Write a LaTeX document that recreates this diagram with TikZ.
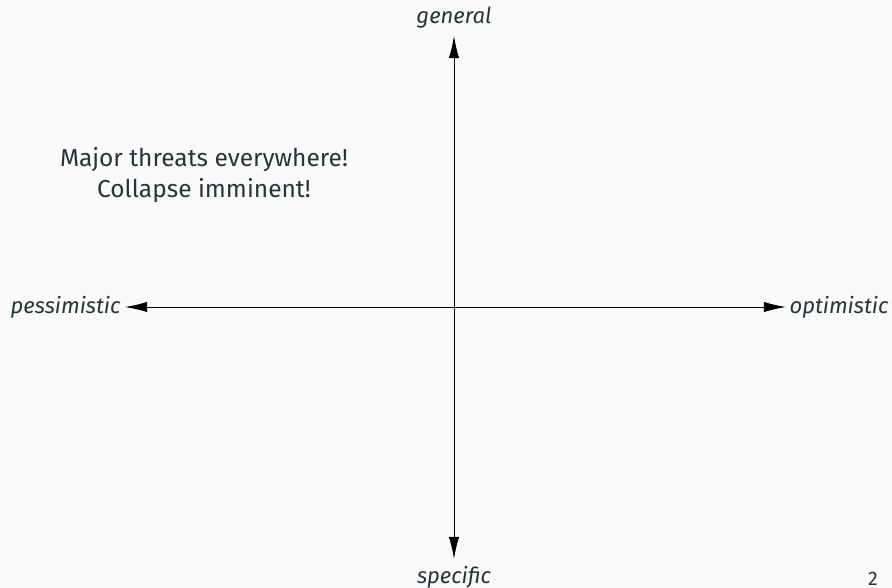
\documentclass[tikz,border=0pt]{standalone}
\usepackage{fontspec}
\setmainfont{Fira Sans}
\usetikzlibrary{arrows.meta}
\definecolor{bg}{HTML}{FAFAFA}
\definecolor{fg}{HTML}{23373B}
\begin{document}
\begin{tikzpicture}[x=0.408pt,y=-0.408pt,
  axis/.style={draw=black,line width=0.4pt,-{Latex[length=9pt,width=4.2pt]}},
  axlabel/.style={font=\fontsize{9}{11}\selectfont\itshape,text=fg,inner sep=0pt},
  claim/.style={font=\fontsize{10}{13}\selectfont,text=fg,align=center,inner sep=0pt}]
  % frame background
  \fill[bg] (0,0) rectangle (892,588);
  \useasboundingbox (0,0) rectangle (892,588);
  % origin and axis ends
  \coordinate (o) at (454,307);
  \coordinate (top) at (454,36);
  \coordinate (bottom) at (454,559);
  \coordinate (left) at (125,307);
  \coordinate (right) at (786,307);
  \draw[axis] (o) -- (top);
  \draw[axis] (o) -- (bottom);
  \draw[axis] (o) -- (left);
  \draw[axis] (o) -- (right);
  % axis labels
  \node[axlabel,anchor=south] (gen) at (454,29) {general};
  \node[axlabel,anchor=north] (spec) at (454,566) {specific};
  \node[axlabel,anchor=east] (pes) at (121,307) {pessimistic};
  \node[axlabel,anchor=west] (opt) at (789,307) {optimistic};
  % quadrant statement
  \node[claim] (msg) at (204,175) {Major threats everywhere!\\Collapse imminent!};
  % page number
  \node[font=\fontsize{8}{10}\selectfont,text=fg,inner sep=0pt] (page) at (873,579) {2};
\end{tikzpicture}
\end{document}
